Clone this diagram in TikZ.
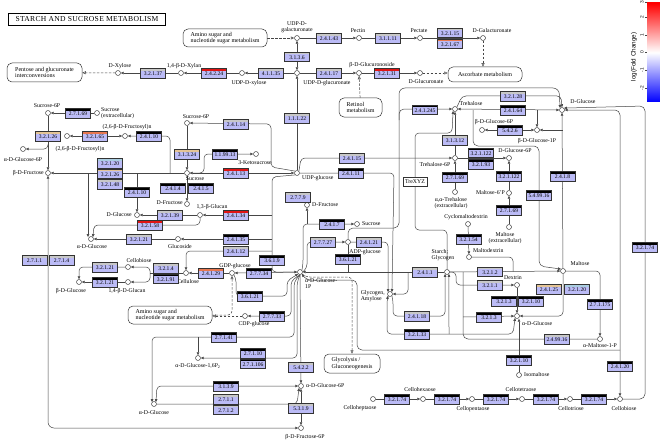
\documentclass[tikz,border=0pt]{standalone}
\usepackage{fontspec}
\setmainfont{Liberation Serif}
\newfontfamily\sansf{Liberation Sans}
\newfontfamily\titlefont{Liberation Serif}[LetterSpace=4.0]
\usetikzlibrary{arrows.meta,backgrounds}
\definecolor{enzfill}{RGB}{187,187,246}
\definecolor{barlg}{RGB}{200,200,200}
\definecolor{barred}{RGB}{225,20,20}
\definecolor{barorange}{RGB}{232,120,80}
\definecolor{bartan}{RGB}{228,196,150}
\definecolor{barblue}{RGB}{170,205,225}
\definecolor{lncol}{RGB}{70,70,70}
\tikzset{
  enz/.style={rectangle, draw=black!80, line width=0.35pt, fill=enzfill,
    minimum width=25pt, minimum height=9.5pt, inner sep=0pt,
    text height=5.4pt, text depth=0pt,
    font=\fontsize{5.6}{5.6}\selectfont,
    path picture={\fill[#1] (path picture bounding box.north west) rectangle ([yshift=-2.4pt]path picture bounding box.north east);}},
  enz/.default=barlg,
  cpd/.style={circle, draw=black!80, fill=white, line width=0.45pt, minimum size=5pt, inner sep=0pt},
  lbl/.style={font=\fontsize{5.8}{6.2}\selectfont, inner sep=0pt, align=center},
  mapbox/.style={rectangle, rounded corners=5pt, draw=black!80, line width=0.5pt, fill=white,
    align=left, font=\fontsize{6}{6.5}\selectfont, inner sep=1pt},
  ln/.style={draw=lncol, line width=0.5pt},
  arr/.style={-{Triangle[length=3pt,width=2.6pt]}},
  rar/.style={{Triangle[length=3pt,width=2.6pt]}-},
  dbl/.style={{Triangle[length=3pt,width=2.6pt]}-{Triangle[length=3pt,width=2.6pt]}},
  oarr/.style={-{Triangle[open,length=3.5pt,width=3pt]}},
  roarr/.style={{Triangle[open,length=3.5pt,width=3pt]}-},
  dsh/.style={dash pattern=on 2.5pt off 1.5pt},
  rc/.style={rounded corners=#1}, rc/.default=4pt,
  cbtick/.style={font=\sansf\fontsize{4.8}{4.8}\selectfont, rotate=90}
}
\begin{document}
\begin{tikzpicture}[x=1pt,y=-1pt]
\useasboundingbox (0,0) rectangle (660,441);
\begin{scope}[on background layer]
\fill[white] (0,0) rectangle (660,441);
\end{scope}

% title
\node[draw=black, line width=0.9pt, minimum width=157pt, minimum height=12pt, inner sep=0pt,
  font=\titlefont\fontsize{7.6}{7.6}\selectfont] (title) at (87,19) {STARCH AND SUCROSE METABOLISM};

% colour bar
\node[rectangle, minimum width=13pt, minimum height=99pt, inner sep=0pt, draw=none,
  top color=red, bottom color=blue, middle color=white] (cbar) at (653.5,52.5) {};
\foreach \yy in {2.5,17,35,52.5,70,88} {\draw[lncol, line width=0.3pt] (646.5,\yy) -- (645,\yy);}
\node[cbtick] (t3) at (642,2.6) {3};
\node[cbtick] (t2) at (642,17) {2};
\node[cbtick] (t1) at (642,35) {1};
\node[cbtick] (t0) at (642,52.5) {0};
\node[cbtick] (tm1) at (642,70) {-1};
\node[cbtick] (tm2) at (642,88) {-2};
\node[font=\sansf\fontsize{6.3}{6.3}\selectfont, rotate=90] (cblab) at (634,57) {log(Fold Change)};

% map boxes
\node[mapbox, minimum width=75pt, minimum height=19pt] (m_pentose) at (44.5,72.5) {Pentose and glucuronate\\interconversions};
\node[mapbox, minimum width=84pt, minimum height=18pt] (m_amino1) at (225,38) {Amino sugar and\\nucleotide sugar metabolism};
\node[mapbox, minimum width=74pt, minimum height=15pt] (m_ascorbate) at (485,74.5) {Ascorbate metabolism};
\node[mapbox, minimum width=43pt, minimum height=19pt] (m_retinol) at (360.5,107.5) {Retinol\\metabolism};
\node[mapbox, minimum width=84pt, minimum height=18pt] (m_amino2) at (170,315) {Amino sugar and\\nucleotide sugar metabolism};
\node[mapbox, minimum width=56pt, minimum height=19pt] (m_glyco) at (352,363.5) {Glycolysis /\\Gluconeogenesis};
\node[rectangle, draw=black!80, line width=0.5pt, fill=white, minimum width=24pt, minimum height=9pt, inner sep=0pt, font=\fontsize{5.8}{5.8}\selectfont] (trexyz) at (415,182) {TreXYZ};

% compounds and labels
\node[cpd] (c_xylose) at (118,73) {};
\node[lbl] (l_xylose) at (120,66) {D-Xylose};
\node[cpd] (c_xylan) at (181,73) {};
\node[lbl] (l_xylan) at (184,66) {1,4-β-D-Xylan};
\node[cpd] (c_udpxyl) at (242,73) {};
\node[lbl] (l_udpxyl) at (249,83) {UDP-D-xylose};
\node[cpd] (c_udpglcA) at (297,73) {};
\node[lbl] (l_udpglcA) at (327,83) {UDP-D-glucuronate};
\node[cpd] (c_udpgalA) at (297,38) {};
\node[lbl] (l_udpgalA) at (297,27) {UDP-D-\\galacturonate};
\node[cpd] (c_pectin) at (359,38) {};
\node[lbl] (l_pectin) at (358,31) {Pectin};
\node[cpd] (c_pectate) at (420,38) {};
\node[lbl] (l_pectate) at (419,31) {Pectate};
\node[cpd] (c_galA) at (483,38) {};
\node[lbl] (l_galA) at (492,31) {D-Galacturonate};
\node[cpd] (c_glcAside) at (359,73) {};
\node[lbl] (l_glcAside) at (372,65.5) {β-D-Glucuronoside};
\node[cpd] (c_glcA) at (420,73) {};
\node[lbl] (l_glcA) at (426,82) {D-Glucuronate};

\node[cpd] (c_suc6Pa) at (48,113) {};
\node[lbl] (l_suc6Pa) at (47,106) {Sucrose-6P};
\node[cpd] (c_sucext) at (97,113) {};
\node[lbl, anchor=west, align=left] (l_sucext) at (101,113) {Sucrose\\(extracellular)};
\node[cpd] (c_frucn) at (125,136) {};
\node[lbl] (l_frucn) at (127,127.5) {(2,6-β-D-Fructosyl)n};
\node[cpd] (c_frucn1) at (67,136) {};
\node[lbl] (l_frucn1) at (80,149.5) {(2,6-β-D-Fructosyl)n};
\node[cpd] (c_glc6Pa) at (23,149) {};
\node[lbl] (l_glc6Pa) at (23,160) {α-D-Glucose-6P};
\node[cpd] (c_bfru) at (48,173) {};
\node[lbl, anchor=east] (l_bfru) at (44,173) {β-D-Fructose};
\node[cpd] (c_suc6Pb) at (187,123) {};
\node[lbl] (l_suc6Pb) at (196,116.5) {Sucrose-6P};
\node[cpd] (c_sucrose) at (187,173) {};
\node[lbl] (l_sucrose) at (195,179) {Sucrose};
\node[cpd] (c_ketosuc) at (256,154) {};
\node[lbl] (l_ketosuc) at (255,163) {3-Ketosucrose};
\node[cpd] (c_udpglc) at (297,173) {};
\node[lbl, anchor=west] (l_udpglc) at (302,178) {UDP-glucose};
\node[cpd] (c_dglcL) at (137,215) {};
\node[lbl, anchor=east] (l_dglcL) at (132,215) {D-Glucose};
\node[cpd] (c_dfru) at (187,204) {};
\node[lbl, anchor=east] (l_dfru) at (183,203) {D-Fructose};
\node[cpd] (c_glucan13) at (200,215) {};
\node[lbl] (l_glucan13) at (212,207.5) {1,3-β-Glucan};
\node[cpd] (c_aglcL) at (91,239) {};
\node[lbl] (l_aglcL) at (92,247) {α-D-Glucose};
\node[cpd] (c_glucoside) at (178,239) {};
\node[lbl] (l_glucoside) at (180,247) {Glucoside};
\node[cpd] (c_cbL) at (128,267) {};
\node[lbl] (l_cbL) at (139,261) {Cellobiose};
\node[cpd] (c_glucan14) at (128,282) {};
\node[lbl] (l_glucan14) at (127,291.5) {1,4-β-D-Glucan};
\node[cpd] (c_bglc) at (79,282) {};
\node[lbl] (l_bglc) at (71,291) {β-D-Glucose};
\node[cpd] (c_cellulose) at (186,273) {};
\node[lbl] (l_cellulose) at (188,282) {Cellulose};
\node[cpd] (c_gdpglc) at (232,273) {};
\node[lbl] (l_gdpglc) at (235,266) {GDP-glucose};
\node[cpd] (c_glc1P) at (300,272) {};
\node[lbl, anchor=north west, align=left] (l_glc1P) at (305,278) {α-D-Glucose-\\1P};
\node[cpd] (c_dfruR) at (307,205) {};
\node[lbl, anchor=west] (l_dfruR) at (312,205) {D-Fructose};
\node[cpd] (c_sucR) at (357,224) {};
\node[lbl, anchor=west] (l_sucR) at (362,224) {Sucrose};
\node[cpd] (c_adpglc) at (348,242) {};
\node[lbl] (l_adpglc) at (365,252) {ADP-glucose};
\node[cpd] (c_cdpglc) at (245,316) {};
\node[lbl] (l_cdpglc) at (254,324) {CDP-glucose};
\node[cpd] (c_glc16P2) at (198,358) {};
\node[lbl] (l_glc16P2) at (198,366) {α-D-Glucose-1,6P\textsubscript{2}};
\node[cpd] (c_aglcB) at (154,404) {};
\node[lbl] (l_aglcB) at (154,413) {α-D-Glucose};
\node[cpd] (c_glc6P) at (301,386) {};
\node[lbl, anchor=west] (l_glc6P) at (306,386) {α-D-Glucose-6P};
\node[cpd] (c_fru6P) at (301,428) {};
\node[lbl] (l_fru6P) at (305,437) {β-D-Fructose-6P};
\node[cpd] (c_glycogen) at (390,294) {};
\node[lbl, anchor=east, align=left] (l_glycogen) at (385,296) {Glycogen,\\Amylose};
\node[cpd] (c_starch) at (447,272) {};
\node[lbl, align=left] (l_starch) at (443,255) {Starch;\\Glycogen};
\node[cpd] (c_tre) at (455,109) {};
\node[lbl] (l_tre) at (471,104) {Trehalose};
\node[cpd] (c_tre6P) at (455,158) {};
\node[lbl] (l_tre6P) at (435,165) {Trehalose-6P};
\node[cpd] (c_treext) at (455,192) {};
\node[lbl] (l_treext) at (451,203) {α,α-Trehalose\\(extracellular)};
\node[cpd] (c_bglc6P) at (482,130) {};
\node[lbl] (l_bglc6P) at (494,122) {β-D-Glucose-6P};
\node[cpd] (c_bglc1P) at (537,130) {};
\node[lbl] (l_bglc1P) at (537,141) {β-D-Glucose-1P};
\node[cpd] (c_dglcR) at (562,110) {};
\node[lbl] (l_dglcR) at (583,102) {D-Glucose};
\node[cpd] (c_glc6PR) at (509,158) {};
\node[lbl] (l_glc6PR) at (515,151) {D-Glucose-6P};
\node[cpd] (c_mal6P) at (509,193) {};
\node[lbl, anchor=east] (l_mal6P) at (505,193) {Maltose-6'P};
\node[cpd] (c_malext) at (509,227) {};
\node[lbl] (l_malext) at (505,238) {Maltose\\(extracellular)};
\node[cpd] (c_cyclo) at (468,224) {};
\node[lbl] (l_cyclo) at (466,217) {Cyclomaltodextrin};
\node[cpd] (c_maltodex) at (469,257) {};
\node[lbl, anchor=west] (l_maltodex) at (473,251) {Maltodextrin};
\node[cpd] (c_maltose) at (563,271) {};
\node[lbl] (l_maltose) at (580,264) {Maltose};
\node[cpd] (c_dextrin) at (517,285) {};
\node[lbl] (l_dextrin) at (513,278) {Dextrin};
\node[cpd] (c_aglcR) at (517,316) {};
\node[lbl, anchor=west] (l_aglcR) at (522,324) {α-D-Glucose};
\node[cpd] (c_isomalt) at (519,375) {};
\node[lbl, anchor=west] (l_isomalt) at (524,375) {Isomaltose};
\node[cpd] (c_malt1P) at (600,339) {};
\node[lbl] (l_malt1P) at (600,346) {α-Maltose-1-P};
\node[cpd] (c_c7) at (373,399) {};
\node[lbl] (l_c7) at (360,408) {Celloheptaose};
\node[cpd] (c_c6) at (423,399) {};
\node[lbl] (l_c6) at (420,390) {Cellohexaose};
\node[cpd] (c_c5) at (472,399) {};
\node[lbl] (l_c5) at (473,409) {Cellopentaose};
\node[cpd] (c_c4) at (522,399) {};
\node[lbl] (l_c4) at (521,390) {Cellotetraose};
\node[cpd] (c_c3) at (570,399) {};
\node[lbl] (l_c3) at (571,409) {Cellotriose};
\node[cpd] (c_cbR) at (620,399) {};
\node[lbl] (l_cbR) at (624,409) {Cellobiose};

% enzymes
\node[enz=barlg] (e1) at (153,73) {3.2.1.37};
\node[enz=barred] (e2) at (214,73) {2.4.2.24};
\node[enz=barlg] (e3) at (271,73) {4.1.1.35};
\node[enz=barlg] (e4) at (297,56.5) {3.1.3.6};
\node[enz=barlg] (e5) at (329,38) {2.4.1.43};
\node[enz=barlg] (e6) at (329,73) {2.4.1.17};
\node[enz=barlg] (e7) at (297,118) {1.1.1.22};
\node[enz=barlg] (e8) at (388,38) {3.1.1.11};
\node[enz=barlg] (e9) at (450,32.5) {3.2.1.15};
\node[enz=barorange] (e10) at (450,43.5) {3.2.1.67};
\node[enz=barred] (e11) at (387,73) {3.2.1.31};
\node[enz=barlg] (e12) at (236,124) {2.4.1.14};
\node[enz=black] (e13) at (425,109.5) {2.4.1.245};
\node[enz=barlg] (e14) at (513,96) {3.2.1.28};
\node[enz=black] (e15) at (513,110) {2.4.1.64};
\node[enz=black] (e16) at (510,130) {5.4.2.6};
\node[enz=barlg] (e17) at (455,140) {3.1.3.12};
\node[enz=black] (e18) at (481,152.5) {3.2.1.122};
\node[enz=black] (e19) at (481,164) {3.2.1.93};
\node[enz=black] (e20) at (455,177) {2.7.1.69};
\node[enz=black] (e21) at (509,176) {3.2.1.122};
\node[enz=black] (e22) at (509,210) {2.7.1.69};
\node[enz=black] (e23) at (539,195) {5.4.99.16};
\node[enz=black] (e24) at (562.5,176) {2.4.1.8};
\node[enz=black] (e25) at (645,247) {3.2.1.74};
\node[enz=black] (e26) at (78,113) {2.7.1.69};
\node[enz=bartan] (e27) at (48,136) {3.2.1.26};
\node[enz=barorange] (e28) at (95,136) {3.2.1.65};
\node[enz=black] (e29) at (149,136) {2.4.1.10};
\node[enz=barblue] (e30) at (110,163) {3.2.1.20};
\node[enz=bartan] (e31) at (110,173.5) {3.2.1.26};
\node[enz=barlg] (e32) at (110,184) {3.2.1.48};
\node[enz=black] (e33) at (137,192) {2.4.1.10};
\node[enz=bartan] (e34) at (187,154) {3.1.3.24};
\node[enz=black] (e35) at (225,154) {1.1.99.13};
\node[enz=barred] (e36) at (236,173) {2.4.1.13};
\node[enz=black] (e37) at (173,188) {2.4.1.4};
\node[enz=black] (e38) at (201,188) {2.4.1.5};
\node[enz=barlg] (e39) at (170,215) {3.2.1.39};
\node[enz=barred] (e40) at (236,215) {2.4.1.34};
\node[enz=barred] (e41) at (150,225) {3.2.1.58};
\node[enz=barlg] (e42) at (139,239) {3.2.1.21};
\node[enz=black] (e43) at (236,239) {2.4.1.35};
\node[enz=barlg] (e44) at (236,251) {2.4.1.12};
\node[enz=barlg] (e45) at (298,197) {2.7.7.9};
\node[enz=barlg] (e46) at (105,267) {3.2.1.21};
\node[enz=black] (e47) at (105,282) {3.2.1.21};
\node[enz=barlg] (e48) at (166,268) {3.2.1.4};
\node[enz=black] (e49) at (166,278.5) {3.2.1.91};
\node[enz=barorange] (e50) at (211,273) {2.4.1.29};
\node[enz=black] (e51) at (259,273) {2.7.7.34};
\node[enz=black] (e52) at (272,260) {3.6.1.9};
\node[enz=barlg] (e53) at (34.5,260) {2.7.1.1};
\node[enz=barlg] (e54) at (61.5,260) {2.7.1.4};
\node[enz=black] (e55) at (332,224) {2.4.1.7};
\node[enz=barlg] (e56) at (323,242) {2.7.7.27};
\node[enz=barlg] (e57) at (369,242) {2.4.1.21};
\node[enz=black] (e58) at (348,259) {3.6.1.21};
\node[enz=barlg] (e59) at (352,158) {2.4.1.15};
\node[enz=black] (e60) at (351,173) {2.4.1.11};
\node[enz=barlg] (e61) at (425,272) {2.4.1.1};
\node[enz=black] (e62) at (468.5,239) {3.2.1.54};
\node[enz=barlg] (e63) at (490,271.5) {3.2.1.2};
\node[enz=barlg] (e64) at (490,285) {3.2.1.1};
\node[enz=barlg] (e65) at (417,316) {2.4.1.18};
\node[enz=black] (e66) at (417,334) {3.2.1.33};
\node[enz=black] (e67) at (489,317) {3.2.1.3};
\node[enz=black] (e68) at (504,301) {3.2.1.3};
\node[enz=black] (e69) at (531,301) {3.2.1.10};
\node[enz=bartan] (e70) at (549,289) {2.4.1.25};
\node[enz=barblue] (e71) at (577,289) {3.2.1.20};
\node[enz=black] (e72) at (600,304) {2.7.1.175};
\node[enz=barlg] (e73) at (557,339) {2.4.99.16};
\node[enz=black] (e74) at (519,360) {3.2.1.10};
\node[enz=black] (e75) at (620,366) {2.4.1.20};
\node[enz=black] (e76) at (397,399) {3.2.1.74};
\node[enz=black] (e77) at (447,399) {3.2.1.74};
\node[enz=black] (e78) at (496,399) {3.2.1.74};
\node[enz=black] (e79) at (546,399) {3.2.1.74};
\node[enz=black] (e80) at (594,399) {3.2.1.74};
\node[enz=black] (e81) at (250,296) {3.6.1.21};
\node[enz=black] (e82) at (272,316) {2.7.7.33};
\node[enz=black] (e83) at (224,337) {2.7.1.41};
\node[enz=black] (e84) at (253,353) {2.7.1.10};
\node[enz=black] (e85) at (253,363.5) {2.7.1.106};
\node[enz=black] (e86) at (226,386) {3.1.3.9};
\node[enz=barlg] (e87) at (226,399) {2.7.1.1};
\node[enz=barlg] (e88) at (226,409.5) {2.7.1.2};
\node[enz=barlg] (e89) at (301,367) {5.4.2.2};
\node[enz=barlg] (e90) at (301,408) {5.3.1.9};

% junction coordinates
\coordinate (j1) at (88,173);
\coordinate (j2) at (137,173);
\coordinate (j3) at (170,173);
\coordinate (j4) at (48,144);
\coordinate (j5) at (272,215);
\coordinate (j6) at (272,239);
\coordinate (j7) at (272,251);
\coordinate (j8) at (150,273);
\coordinate (j9) at (198,337);
\coordinate (j10) at (620,350);
\coordinate (j11) at (408,272);
\coordinate (j12) at (307,224);
\coordinate (j13) at (399,120);
\coordinate (j14) at (537,110);
\coordinate (j15) at (562.5,130);
\coordinate (j17) at (473,110);
\coordinate (j18) at (463,317);
\coordinate (j19) at (449,334);
\coordinate (j20) at (463,272);
\coordinate (j21) at (513,271.5);

\begin{scope}[on background layer]
% top area
\draw[ln,arr] (c_xylan) -- (c_xylose);
\draw[ln,arr] (c_udpxyl) -- (c_xylan);
\draw[ln,arr] (c_udpglcA) -- (c_udpxyl);
\draw[ln,dbl] (c_udpgalA) -- (c_udpglcA);
\draw[ln,dsh,oarr] (m_amino1) -- (c_udpgalA);
\draw[ln,arr] (c_udpgalA) -- (c_pectin);
\draw[ln,arr] (c_pectin) -- (c_pectate);
\draw[ln,arr] (c_pectate) -- (c_galA);
\draw[ln,dsh,oarr] (c_galA) -- (c_galA |- m_ascorbate.north);
\draw[ln,arr] (c_udpglcA) -- (c_glcAside);
\draw[ln,arr] (c_glcAside) -- (c_glcA);
\draw[ln,dsh,oarr] (c_glcA) -- (c_glcA -| m_ascorbate.west);
\draw[ln,dsh,oarr] (m_retinol) -- (c_glcAside);
\draw[ln,dsh,oarr] (c_xylose) -- (m_pentose);
\draw[ln,arr] (c_udpglc) -- (c_udpglcA);
% sucrose area
\draw[ln,arr,rc] (c_udpglc.north west) -- (271,167) -- (271,124) -- (c_suc6Pb);
\draw[ln,dbl] (c_udpglc) -- (c_sucrose);
\draw[ln,arr] (c_suc6Pb) -- (c_sucrose);
\draw[ln,arr,rc] (c_sucrose.east) -- (204,173) -- (204,154) -- (c_ketosuc);
\draw[ln,arr] (c_sucrose) -- (c_dfru);
\draw[ln,arr] (c_sucrose) -- (c_bfru);
\draw[ln,arr] (j1) -- (j1 |- c_aglcL.north west);
\draw[ln,arr] (j2) -- (c_dglcL);
\draw[ln,arr,rc] (j3) -- (170,136) -- (c_frucn);
\draw[ln,dbl] (c_frucn1) -- (c_frucn);
\draw[ln,arr] (c_sucext) -- (c_suc6Pa);
\draw[ln,arr] (c_suc6Pa) -- (c_bfru);
\draw[ln,arr,rc] (j4) |- (c_glc6Pa);
\draw[ln,dbl,rc=6] (c_bfru) -- (48,428) -- (c_fru6P);
\draw[ln,arr] (c_glucan13) -- (c_dglcL);
\draw[ln,arr,rc] (c_udpglc.south west) -- (272,177) -- (272,272) -- (c_glc1P);
\draw[ln,arr] (j5) -- (c_glucan13);
\draw[ln,arr] (j6) -- (c_glucoside);
\draw[ln,arr,rc] (j7) -| (c_cellulose);
\draw[ln,arr,rc] (c_glucan13) |- (94,225) -- (c_aglcL.north east);
\draw[ln,arr] (c_glucoside) -- (c_aglcL);
\draw[ln] (c_cellulose) -- (j8);
\draw[ln,arr,rc] (j8) |- (c_cbL);
\draw[ln,arr,rc] (j8) |- (c_glucan14);
\draw[ln,arr,rc] (c_cbL) -| (c_bglc);
\draw[ln,arr] (c_glucan14) -- (c_bglc);
\draw[ln,arr] (c_gdpglc) -- (c_cellulose);
\draw[ln,arr] (c_glc1P) -- (c_gdpglc);
\draw[ln,dsh,roarr,rc] (c_gdpglc) |- (m_amino2.east);
\draw[ln,arr,rc] (c_gdpglc.south east) -- (236,278) -- (236,296) -- (287,296) -- (287,281) -- (c_glc1P.south west);
\draw[ln,arr,rc] (c_glc1P.south) -- (291,281) -- (291,316) -- (c_cdpglc);
\draw[ln,dsh,oarr] (c_cdpglc) -- (c_cdpglc -| m_amino2.east);
\draw[ln,arr,rc] (c_glc1P.south) -- (294,282) -- (294,337) -- (152,337) -- (c_aglcB.north west);
\draw[ln,arr] (j9) -- (c_glc16P2);
\draw[ln,arr,rc] (c_glc1P.south) -- (297,283) -- (297,358) -- (c_glc16P2);
\draw[ln,arr] (c_glc1P) -- (c_glc6P);
\draw[ln,dbl,rc] (c_glc6P) -- (157,386) -- (c_aglcB.north east);
\draw[ln,arr,rc] (c_aglcB) -- (297,404) -- (c_glc6P.south west);
\draw[ln,dbl] (c_glc6P) -- (c_fru6P);
\draw[ln,dsh,oarr,rc] (c_glc1P.south east) -- (306,277) -- (352,277) -- (m_glyco.north);
\draw[ln,rar,rc=5] (c_glc1P.south east) -- (306,280) -- (357,280) -- (357,350) -- (j10);
% glucose-1P right side
\draw[ln,arr] (c_starch) -- (c_glc1P);
\draw[ln,arr,rc] (j11) |- (c_glycogen);
\draw[ln,arr,rc] (c_glc1P.north east) -- (303,264) -- (303,224) -- (c_sucR);
\draw[ln,arr] (j12) -- (c_dfruR);
\draw[ln,arr,rc] (c_glc1P.east) -- (307,268) -- (307,242) -- (c_adpglc);
\draw[ln] (c_adpglc) -- (c_adpglc |- c_starch);
\draw[ln,arr,rc] (c_adpglc) -- (388,242) -- (c_glycogen.north west);
\draw[ln,arr,rc] (c_udpglc) -- (394,173) -- (c_glycogen.north east);
\draw[ln,arr,rc] (c_udpglc.north east) -- (301,158) -- (c_tre6P);
\draw[ln,arr,rc=5] (c_adpglc.north) -- (348,228) -- (399,228) -- (399,109) -- (c_tre);
\draw[ln,arr,rc=6] (j13) -- (399,88) -- (559,88) -- (c_dglcR.north west);
\draw[ln,arr,rc] (c_tre.north east) -- (462,96) -- (561,96) -- (c_dglcR.north);
\draw[ln,dbl] (c_tre) -- (c_dglcR);
\draw[ln,arr] (j14) -- (c_bglc1P);
\draw[ln,dbl] (c_bglc6P) -- (c_bglc1P);
\draw[ln,arr] (c_maltose) -- (c_dglcR);
\draw[ln,arr] (j15) -- (c_bglc1P);
\draw[ln,dbl,rc=5] (c_dglcR.east) -- (620,110) -- (c_cbR);
\draw[ln,arr,rc=5] (c_cbR) -- (645,399) -- (645,106) -- (c_dglcR.north east);
% trehalose area
\draw[ln,arr] (c_tre6P) -- (c_tre);
\draw[ln,arr,rc] (c_starch) -- (447,230) -- (415,230) -- (415,133) -- (452,133) -- (c_tre.south west);
\draw[ln,arr] (c_treext) -- (c_tre6P);
\draw[ln,arr] (c_tre6P) -- (c_glc6PR);
\draw[ln,arr] (c_mal6P) -- (c_glc6PR);
\draw[ln,arr] (c_malext) -- (c_mal6P);
\draw[ln,arr,rc=5] (j17) -- (473,146) -- (539,146) -- (539,266) -- (c_maltose.north west);
% starch / maltose area
\draw[ln,arr] (c_cyclo) -- (c_maltodex);
\draw[ln,rc] (c_maltodex) -- (513,257) -- (j21);
\draw[ln,arr] (c_starch) -- (c_maltose);
\draw[ln,arr,rc] (c_starch.east) -- (456,272) -- (456,285) -- (c_dextrin);
\draw[ln,arr] (c_dextrin) -- (c_aglcR);
\draw[ln,arr,rc] (c_maltose) |- (c_aglcR);
\draw[ln,arr,rc] (c_maltose) -| (c_malt1P);
\draw[ln,rc=5] (c_malt1P) -- (463,339) -- (j20);
\draw[ln,arr] (j18) -- (c_aglcR);
\draw[ln,arr] (c_isomalt) -- (c_isomalt |- c_aglcR.south);
\draw[ln,arr,rc] (c_glycogen.south east) -- (393,300) -- (393,316) -- (445,316) -- (c_starch.south west);
\draw[ln,dbl,rc] (c_glycogen.south west) -- (387,300) -- (387,334) -- (513,334) -- (c_aglcR.south west);
\draw[ln,arr] (j19) -- (c_starch.south east);
% cellodextrins
\draw[ln,arr] (c_c7) -- (c_c6);
\draw[ln,arr] (c_c6) -- (c_c5);
\draw[ln,arr] (c_c5) -- (c_c4);
\draw[ln,arr] (c_c4) -- (c_c3);
\draw[ln,arr] (c_c3) -- (c_cbR);
\end{scope}
\end{tikzpicture}
\end{document}
